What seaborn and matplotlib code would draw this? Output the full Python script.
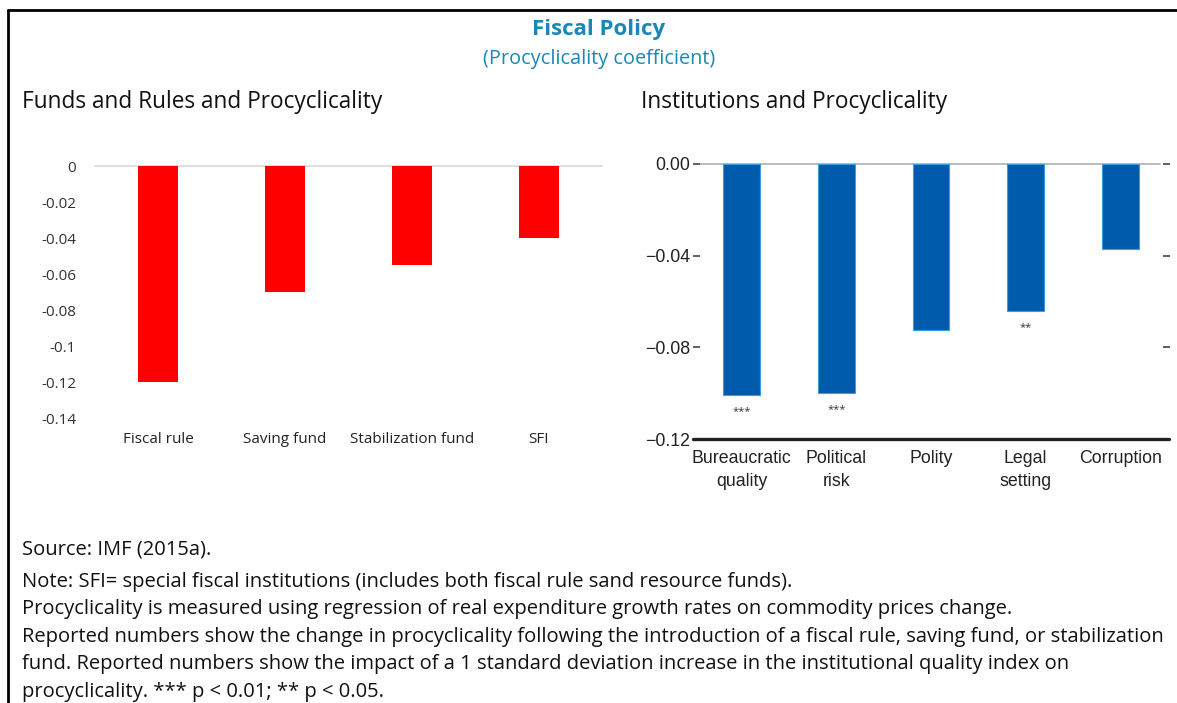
import numpy as np
import pandas as pd
import seaborn as sns
import matplotlib
matplotlib.use("Agg")
import matplotlib.pyplot as plt
from matplotlib.ticker import FuncFormatter, FixedLocator

# data
funds_cats = ["Fiscal rule", "Saving fund", "Stabilization fund", "SFI"]
funds_vals = [-0.120, -0.070, -0.055, -0.040]

inst_cats = ["Bureaucratic\nquality", "Political\nrisk", "Polity", "Legal\nsetting", "Corruption"]
inst_vals = [-0.101, -0.100, -0.0724, -0.0641, -0.0371]
inst_sig = ["***", "***", "", "**", ""]

funds_ticks = [0, -0.02, -0.04, -0.06, -0.08, -0.1, -0.12, -0.14]
inst_ticks = [0.0, -0.04, -0.08, -0.12]

note_lines = [
    "Source: IMF (2015a).",
    "Note: SFI= special fiscal institutions (includes both fiscal rule sand resource funds).",
    "Procyclicality is measured using regression of real expenditure growth rates on commodity prices change.",
    "Reported numbers show the change in procyclicality following the introduction of a fiscal rule, saving fund, or stabilization",
    "fund. Reported numbers show the impact of a 1 standard deviation increase in the institutional quality index on",
    "procyclicality. *** p < 0.01; ** p < 0.05.",
]

sns.set_style("white")
plt.rcParams["font.family"] = ["Open Sans", "DejaVu Sans"]
narrow = ["Liberation Sans Narrow", "Liberation Sans", "DejaVu Sans"]

W, H = 1177, 703
fig = plt.figure(figsize=(W / 100, H / 100), dpi=100)


def px_axes(x0, x1, ytop, ybot):
    return fig.add_axes([x0 / W, 1 - ybot / H, (x1 - x0) / W, (ybot - ytop) / H])


# frame lines (top and left)
fig.add_artist(plt.Line2D([8 / W, 1], [1 - 10 / H, 1 - 10 / H], color="black", lw=2))
fig.add_artist(plt.Line2D([8 / W, 8 / W], [0, 1 - 10 / H], color="black", lw=2))

title_col = "#1a87b8"
fig.text(599 / W, 1 - 30 / H, "Fiscal Policy", ha="center", va="center",
         fontsize=16, fontweight="bold", color=title_col)
fig.text(599 / W, 1 - 59 / H, "(Procyclicality coefficient)", ha="center", va="center",
         fontsize=14.3, color=title_col)
fig.text(22 / W, 1 - 102 / H, "Funds and Rules and Procyclicality", ha="left", va="center",
         fontsize=16.3, color="#111111")
fig.text(641 / W, 1 - 102 / H, "Institutions and Procyclicality", ha="left", va="center",
         fontsize=16.3, color="#111111")

# left panel
ax1 = px_axes(95, 602, 166, 418)
df1 = pd.DataFrame({"cat": funds_cats, "val": funds_vals})
sns.barplot(data=df1, x="cat", y="val", color="#ff0000", saturation=1, width=0.316,
            linewidth=0, ax=ax1)
ax1.set_xlim(-0.5, 3.5)
ax1.set_ylim(-0.14, 0)
ax1.axhline(0, color="#d9d9d9", lw=1.2, clip_on=False, zorder=0)
for s in ax1.spines.values():
    s.set_visible(False)
ax1.yaxis.set_major_locator(FixedLocator(funds_ticks))
ax1.yaxis.set_major_formatter(FuncFormatter(lambda v, p: "0" if abs(v) < 1e-9 else f"{v:g}"))
ax1.tick_params(axis="y", length=0, pad=13.5, labelsize=11, labelcolor="#333333")
ax1.tick_params(axis="x", length=0, pad=10, labelsize=11, labelcolor="#222222")
ax1.set_xlabel("")
ax1.set_ylabel("")
ax1.grid(False)

# right panel
ax2 = px_axes(700, 1163, 164, 439)
df2 = pd.DataFrame({"cat": inst_cats, "val": inst_vals})
sns.barplot(data=df2, x="cat", y="val", color="#005bac", saturation=1, width=0.39,
            edgecolor="#3d9be0", linewidth=0.8, ax=ax2)
ax2.set_xlim(-0.438, 4.449)
ax2.set_ylim(-0.12, 0)
ax2.axhline(0, xmax=0.994, color="#b5b5b5", lw=1.3, clip_on=False, zorder=0)
ax2.axhline(-0.12, xmin=-0.015, xmax=1.013, color="#231f20", lw=2.4, clip_on=False)
for s in ax2.spines.values():
    s.set_visible(False)
ax2.yaxis.set_major_locator(FixedLocator(inst_ticks))
ax2.yaxis.set_major_formatter(FuncFormatter(lambda v, p: f"{v:.2f}".replace("-", "\u2212")))
ax2.tick_params(axis="y", left=True, right=True, labelright=False, direction="out",
                length=5, width=1.2, color="#444444", pad=2, labelsize=12.8,
                labelcolor="#222222")
ax2.tick_params(axis="x", length=0, pad=8, labelsize=12.8, labelcolor="#222222")
for lab in ax2.get_xticklabels() + ax2.get_yticklabels():
    lab.set_family(narrow)
for lab in ax2.get_xticklabels():
    lab.set_linespacing(1.45)
ax2.set_xlabel("")
ax2.set_ylabel("")
ax2.grid(False)

for i, (v, s) in enumerate(zip(inst_vals, inst_sig)):
    if s:
        ax2.annotate(s, (i, v), xytext=(0, -8), textcoords="offset points",
                     ha="center", va="top", fontsize=8, color="#333333")

# notes
note_y = [549, 582, 609, 637, 664, 692]
for y, line in zip(note_y, note_lines):
    fig.text(22 / W, 1 - y / H, line, ha="left", va="center", fontsize=14.5, color="#111111")

fig.savefig("out.png", dpi=100)
